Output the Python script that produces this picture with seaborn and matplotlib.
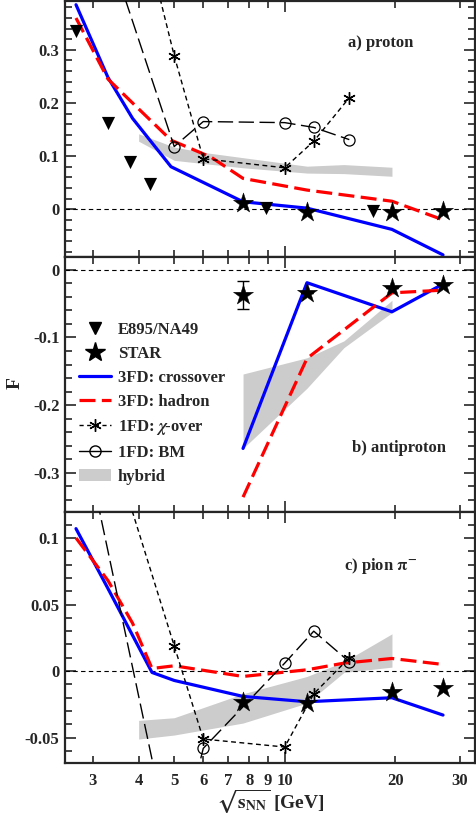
import numpy as np
import pandas as pd
import matplotlib
matplotlib.use("Agg")
import matplotlib.pyplot as plt
import seaborn as sns
from matplotlib.lines import Line2D
from matplotlib.patches import Patch
from matplotlib.ticker import MultipleLocator

# ---- data ----
# experiment
tri_x = [2.7, 3.3, 3.8, 4.3, 8.9, 17.4]
tri_y_a = [0.336, 0.163, 0.088, 0.047, 0.002, -0.004]

star_x = [7.7, 11.5, 19.6, 27.0]
star_y_a = [0.012, -0.005, -0.005, -0.004]
star_y_b = [-0.037, -0.034, -0.027, -0.022]
star_err_b = [0.021, 0.0, 0.0, 0.0]
star_y_c = [-0.023, -0.024, -0.016, -0.013]

# 3FD crossover (blue)
cross_x_a = [2.7, 3.3, 3.85, 4.9, 7.7, 11.5, 19.6, 27.0]
cross_y_a = [0.385, 0.248, 0.171, 0.080, 0.014, 0.002, -0.038, -0.086]
cross_x_b = [7.7, 11.5, 19.6, 27.0]
cross_y_b = [-0.264, -0.019, -0.062, -0.021]
cross_x_c = [2.7, 3.3, 4.35, 5.0, 7.7, 11.5, 19.6, 27.0]
cross_y_c = [0.107, 0.062, -0.001, -0.007, -0.019, -0.023, -0.020, -0.033]

# 3FD hadron (red)
had_x_a = [2.7, 3.3, 3.85, 4.9, 6.3, 7.7, 11.5, 19.6, 27.0]
had_y_a = [0.360, 0.245, 0.200, 0.130, 0.098, 0.058, 0.036, 0.015, -0.020]
had_x_b = [7.7, 11.5, 19.6, 27.0]
had_y_b = [-0.336, -0.131, -0.034, -0.030]
had_x_c = [2.7, 3.3, 3.85, 4.35, 5.0, 7.7, 11.5, 14.5, 19.6, 27.0]
had_y_c = [0.100, 0.068, 0.036, 0.002, 0.004, -0.004, 0.001, 0.006, 0.0095, 0.005]

# 1FD chi-over (asterisks, short dash)
chi_x_a = [4.0, 5.0, 6.0, 10.0, 12.0, 15.0]
chi_y_a = [0.56, 0.289, 0.095, 0.078, 0.128, 0.210]
chi_x_c = [3.5, 5.0, 6.0, 10.0, 12.0, 15.0]
chi_y_c = [0.156, 0.019, -0.051, -0.057, -0.017, 0.010]

# 1FD BM (open circles, long dash)
bm_x_a = [3.5, 5.0, 6.0, 10.0, 12.0, 15.0]
bm_y_a = [0.44, 0.118, 0.165, 0.163, 0.154, 0.131]
bm_x_c = [3.0, 5.0, 6.0, 10.0, 12.0, 15.0]
bm_y_c = [0.144, -0.145, -0.058, 0.006, 0.030, 0.007]

# hybrid band
hyb_x_a = [4.0, 5.0, 6.0, 7.7, 11.5, 14.5, 19.6]
hyb_lo_a = [0.128, 0.092, 0.086, 0.078, 0.068, 0.067, 0.062]
hyb_hi_a = [0.142, 0.117, 0.107, 0.097, 0.081, 0.084, 0.079]
hyb_x_b = [7.7, 11.5, 14.5, 19.6]
hyb_lo_b = [-0.264, -0.175, -0.115, -0.063]
hyb_hi_b = [-0.154, -0.130, -0.105, -0.045]
hyb_x_c = [4.0, 5.0, 7.7, 11.5, 14.5, 19.6]
hyb_lo_c = [-0.051, -0.048, -0.039, -0.024, -0.001, 0.003]
hyb_hi_c = [-0.037, -0.035, -0.017, -0.004, 0.007, 0.028]

xtick_vals = [3, 4, 5, 6, 7, 8, 9, 20, 30]

# ---- style ----
sns.set_style("ticks")
plt.rcParams["font.family"] = ["Liberation Serif", "DejaVu Serif"]
plt.rcParams["font.weight"] = "bold"
plt.rcParams["mathtext.fontset"] = "stix"
plt.rcParams["axes.unicode_minus"] = False

BLUE = "#0000ff"
RED = "#ff0000"
GRAY = "#cccccc"
LW = 2.3

fig = plt.figure(figsize=(4.77, 8.18), dpi=100)
left, width = 65 / 477, 410 / 477
ax_a = fig.add_axes([left, 1 - 257 / 818, width, 256 / 818])
ax_b = fig.add_axes([left, 1 - 512 / 818, width, 255 / 818], sharex=ax_a)
ax_c = fig.add_axes([left, 1 - 763 / 818, width, 251 / 818], sharex=ax_a)


def draw_model(ax, x, y, **kw):
    sns.lineplot(x=x, y=y, ax=ax, estimator=None, sort=False, **kw)


def draw_chi(ax, x, y):
    # seaborn paints marker edges white by default -> force black asterisks
    draw_model(ax, x, y, color="k", lw=1.0, linestyle=(0, (3.5, 2.5)),
               marker=(6, 2, 0), markersize=9, markeredgewidth=1.0,
               markeredgecolor="k", zorder=4)


def draw_bm(ax, x, y):
    draw_model(ax, x, y, color="k", lw=1.0, linestyle=(0, (11, 4)),
               marker="o", markersize=8, markerfacecolor="none",
               markeredgecolor="k", markeredgewidth=0.9, zorder=4)


def draw_stars(ax, y):
    sns.scatterplot(x=star_x, y=y, ax=ax, marker="*", s=230, color="k",
                    edgecolor="k", linewidth=0.3, zorder=6)


# panel a: proton
ax = ax_a
ax.fill_between(hyb_x_a, hyb_lo_a, hyb_hi_a, color=GRAY, lw=0, zorder=1)
draw_chi(ax, chi_x_a, chi_y_a)
draw_bm(ax, bm_x_a, bm_y_a)
draw_model(ax, cross_x_a, cross_y_a, color=BLUE, lw=LW, zorder=3)
draw_model(ax, had_x_a, had_y_a, color=RED, lw=LW, linestyle=(0, (5, 2)), zorder=3)
sns.scatterplot(x=tri_x, y=tri_y_a, ax=ax, marker="v", s=90, color="k",
                edgecolor="k", linewidth=0, zorder=5)
draw_stars(ax, star_y_a)
ax.set_ylim(-0.09, 0.392)
ax.set_yticks([0, 0.1, 0.2, 0.3], ["0", "0.1", "0.2", "0.3"])
ax.yaxis.set_minor_locator(MultipleLocator(0.02))
ax.text(0.77, 0.82, "a) proton", transform=ax.transAxes, ha="center",
        fontsize=12, fontweight="bold")

# panel b: antiproton
ax = ax_b
ax.fill_between(hyb_x_b, hyb_lo_b, hyb_hi_b, color=GRAY, lw=0, zorder=1)
draw_model(ax, cross_x_b, cross_y_b, color=BLUE, lw=LW, zorder=3)
draw_model(ax, had_x_b, had_y_b, color=RED, lw=LW, linestyle=(0, (5, 2)), zorder=3)
ax.errorbar(star_x, star_y_b, yerr=star_err_b, fmt="none", ecolor="k",
            elinewidth=1, capsize=4, capthick=1, zorder=5)
draw_stars(ax, star_y_b)
ax.set_ylim(-0.358, 0.019)
ax.set_yticks([0, -0.1, -0.2, -0.3], ["0", "-0.1", "-0.2", "-0.3"])
ax.yaxis.set_minor_locator(MultipleLocator(0.02))
ax.text(0.815, 0.235, "b) antiproton", transform=ax.transAxes, ha="center",
        fontsize=12, fontweight="bold")

handles = [
    Line2D([], [], color="k", marker="v", linestyle="none", markersize=9),
    Line2D([], [], color="k", marker="*", linestyle="none", markersize=15),
    Line2D([], [], color=BLUE, lw=LW),
    Line2D([], [], color=RED, lw=LW, linestyle=(0, (5, 2))),
    Line2D([], [], color="k", lw=1.0, linestyle=(0, (3, 2.5)), marker=(6, 2, 0),
           markersize=9, markeredgewidth=1.0),
    Line2D([], [], color="k", lw=1.0, marker="o", markersize=8,
           markerfacecolor="none"),
    Patch(facecolor=GRAY, edgecolor="none"),
]
labels = ["E895/NA49", "STAR", "3FD: crossover", "3FD: hadron",
          r"1FD: $\chi$-over", "1FD: BM", "hybrid"]
ax.legend(handles, labels, loc="upper left", bbox_to_anchor=(0.035, 0.745),
          frameon=False, handlelength=1.9, handletextpad=0.4,
          labelspacing=0.48, borderpad=0, borderaxespad=0,
          prop={"weight": "bold", "size": 12})

# panel c: pion
ax = ax_c
ax.fill_between(hyb_x_c, hyb_lo_c, hyb_hi_c, color=GRAY, lw=0, zorder=1)
draw_chi(ax, chi_x_c, chi_y_c)
draw_bm(ax, bm_x_c, bm_y_c)
draw_model(ax, cross_x_c, cross_y_c, color=BLUE, lw=LW, zorder=3)
draw_model(ax, had_x_c, had_y_c, color=RED, lw=LW, linestyle=(0, (5, 2)), zorder=3)
draw_stars(ax, star_y_c)
ax.set_ylim(-0.069, 0.1195)
ax.set_yticks([-0.05, 0, 0.05, 0.1], ["-0.05", "0", "0.05", "0.1"])
ax.yaxis.set_minor_locator(MultipleLocator(0.01))
ax.text(0.77, 0.77, r"c) pion $\mathbf{\pi}^{\mathbf{-}}$", transform=ax.transAxes,
        ha="center", fontsize=12, fontweight="bold")

# common axis cosmetics
for ax in (ax_a, ax_b, ax_c):
    ax.axhline(0, color="k", lw=0.8, linestyle=(0, (4, 3)), zorder=2)
    ax.set_xscale("log")
    ax.set_xlim(2.52, 33)
    ax.set_xticks([10], ["10"])
    ax.set_xticks(xtick_vals, [str(v) for v in xtick_vals], minor=True)
    ax.tick_params(which="both", direction="in", top=True, right=True,
                   labelsize=12, width=1.2)
    ax.tick_params(which="major", length=8)
    ax.tick_params(which="minor", length=5)
    ax.tick_params(axis="x", which="both", pad=7)
    ax.tick_params(axis="y", which="both", pad=4)
    for s in ax.spines.values():
        s.set_linewidth(1.6)
    ax.set_xlabel("")
    ax.set_ylabel("")
    for lab in ax.get_xticklabels(which="both") + ax.get_yticklabels():
        lab.set_fontweight("bold")

for ax in (ax_a, ax_b):
    ax.tick_params(axis="x", which="both", labelbottom=False)

fig.text(0.032, 1 - 383 / 818, "F", rotation=90, ha="center", va="center",
         fontsize=14, fontweight="bold")
fig.text(270 / 477, 1 - 802 / 818, r"$\sqrt{\mathbf{s}_{\mathbf{NN}}}$ [GeV]",
         ha="center", va="center", fontsize=14, fontweight="bold")

fig.savefig("out.png", dpi=100)
